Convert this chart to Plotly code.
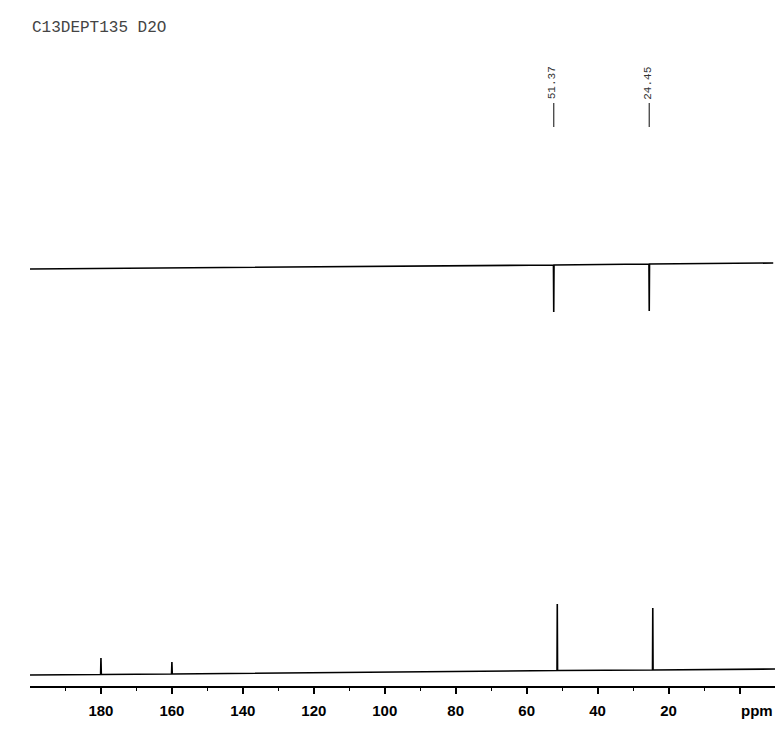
import plotly.graph_objects as go

# ---- data ----
title_text = "C13DEPT135 D2O"
peak_labels = ["51.37", "24.45"]
peak_ppm = [51.37, 24.45]

# DEPT-135 spectrum (upper trace), intensity in arbitrary units
dept_ppm = [199.6, 51.45, 51.37, 51.29, 24.53, 24.45, 24.37, -10.5]
dept_int = [417, 421, 374, 421, 422, 375, 422, 423]

# 13C spectrum (lower trace)
c13_ppm = [200.0, 180.1, 180.0, 179.9, 160.1, 160.0, 159.9,
           51.45, 51.37, 51.29, 24.53, 24.45, 24.37, -10.0]
c13_int = [11, 11.5, 28, 11.5, 12, 24, 12,
           15.5, 82, 15.5, 16, 78, 16, 17]

tick_vals = [180, 160, 140, 120, 100, 80, 60, 40, 20, 0]
tick_text = ["180", "160", "140", "120", "100", "80", "60", "40", "20", ""]
minor_vals = [190, 170, 150, 130, 110, 90, 70, 50, 30, 10]

mono = "Liberation Mono"

fig = go.Figure()
fig.add_trace(go.Scatter(x=c13_ppm, y=c13_int, mode="lines",
                         line=dict(color="black", width=1.6), xaxis="x", yaxis="y",
                         hoverinfo="skip", showlegend=False))
fig.add_trace(go.Scatter(x=dept_ppm, y=dept_int, mode="lines",
                         line=dict(color="black", width=1.6), xaxis="x2", yaxis="y",
                         hoverinfo="skip", showlegend=False))

# peak labels on the DEPT trace
for lab, p in zip(peak_labels, peak_ppm):
    fig.add_annotation(x=p, y=603, xref="x2", yref="y", text=lab, textangle=-90,
                       showarrow=False, xshift=-1.5,
                       font=dict(family=mono, size=11, color="#333"))
    fig.add_shape(type="line", xref="x2", yref="y", x0=p, x1=p, y0=559, y1=583,
                  line=dict(color="#333", width=1.2))

fig.add_annotation(x=0, y=658, xref="paper", yref="y", text=title_text,
                   xanchor="left", yanchor="middle", showarrow=False,
                   font=dict(family=mono, size=16, color="#444"))
fig.add_annotation(x=0.976, y=-0.035, xref="paper", yref="paper", text="ppm",
                   xanchor="center", yanchor="middle", showarrow=False,
                   font=dict(family="Liberation Sans", size=15, color="black", weight="bold"))

fig.update_layout(
    width=781, height=729,
    margin=dict(l=30, r=6, t=0, b=43),
    paper_bgcolor="white", plot_bgcolor="white",
    xaxis=dict(range=[200, -10], showgrid=False, zeroline=False,
               showline=True, linecolor="black", linewidth=1.5,
               ticks="outside", ticklen=6, tickwidth=1.5, tickcolor="black",
               tickvals=tick_vals, ticktext=tick_text, ticklabelstandoff=4,
               tickfont=dict(family="Liberation Sans", size=15, color="black", weight="bold"),
               minor=dict(tickvals=minor_vals, ticks="outside", ticklen=3,
                          tickwidth=1.2, tickcolor="black", showgrid=False)),
    xaxis2=dict(range=[199.0, -11.0], overlaying="x", visible=False),
    yaxis=dict(range=[0, 686], visible=False),
)

fig.write_html("out.html", config={"displayModeBar": False},
               post_script="document.body.style.margin='0';document.body.style.padding='0';")
